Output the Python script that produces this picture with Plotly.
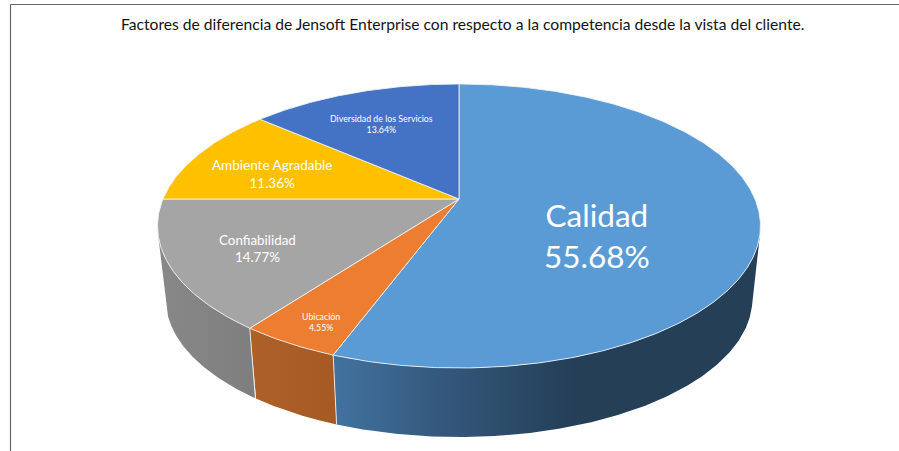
import numpy as np
import plotly.graph_objects as go

# ---- data ----
categories = ["Calidad", "Ubicación", "Confiabilidad", "Ambiente Agradable", "Diversidad de los Servicios"]
values = [55.68, 4.55, 14.77, 11.36, 13.64]
top_colors = ["#5B9BD5", "#ED7D31", "#A5A5A5", "#FFC000", "#4472C4"]
title_text = "Factores de diferencia de Jensoft Enterprise con respecto a la competencia desde la vista del cliente."

# ---- 3D pie geometry (perspective projection of a cylinder onto the page) ----
CX, CY = 459.0, 199.0     # projected pie centre, top face
A, B, K = 296.0, 136.9, 0.19
CY_BOTTOM, SCALE_BOTTOM = 272.6, 0.973

def top_pt(deg):
    t = np.radians(deg)
    u, v = np.sin(t), np.cos(t)
    d = 1 + K * v
    return CX + A * u / d, CY - B * v / d

def bot_pt(deg):
    t = np.radians(deg)
    u, v = np.sin(t), np.cos(t)
    d = 1 + K * v
    return CX + SCALE_BOTTOM * A * u / d, CY_BOTTOM - SCALE_BOTTOM * B * v / d

def silhouette(lo, hi):
    """Generator of the side wall tangent to the top face within [lo, hi]."""
    th = np.arange(lo, hi, 0.1)
    tx, ty = top_pt(th)
    bx, by = bot_pt(th)
    dx, dy = np.gradient(tx), np.gradient(ty)
    cross = dx * (by - ty) - dy * (bx - tx)
    return th[np.argmin(np.abs(cross))]

SIL_R = silhouette(91, 150)
SIL_L = silhouette(215, 269)

cum = np.concatenate([[0], np.cumsum(values)]) / sum(values) * 360.0
fig = go.Figure()
EDGE = "rgba(240,244,248,0.85)"

# side walls: colour stops as (page x, colour)
side_grad = {
    "Calidad": [(337, "#41729E"), (450, "#33567A"), (575, "#243F56"), (760, "#243F56")],
    "Ubicación": [(250, "#AE6029"), (337, "#A65A22")],
    "Confiabilidad": [(160, "#888888"), (256, "#7E7E7E")],
}
for i, name in enumerate(categories):
    if name not in side_grad:
        continue
    a0, a1 = cum[i], cum[i + 1]
    lo = max(a0, SIL_R) if a0 < 180 else a0
    hi = min(a1, SIL_L) if a1 > 180 else a1
    th = np.linspace(lo, hi, 200)
    tx, ty = top_pt(th)
    bx, by = bot_pt(th[::-1])
    xs = np.concatenate([tx, bx, tx[:1]])
    ys = np.concatenate([ty, by, ty[:1]])
    stops = side_grad[name]
    x0, x1 = stops[0][0], stops[-1][0]
    fig.add_trace(go.Scatter(
        x=xs, y=ys, mode="lines", line=dict(width=0), fill="toself",
        fillgradient=dict(type="horizontal", start=x0, stop=x1,
                          colorscale=[[(p - x0) / (x1 - x0), c] for p, c in stops]),
        hoverinfo="skip", showlegend=False))

# vertical seams on the side wall
for a in cum[1:3]:
    tx, ty = top_pt(a)
    bx, by = bot_pt(a)
    fig.add_trace(go.Scatter(x=[tx, bx], y=[ty, by], mode="lines",
                             line=dict(color=EDGE, width=1), hoverinfo="skip", showlegend=False))

# top face wedges
for i, name in enumerate(categories):
    th = np.linspace(cum[i], cum[i + 1], max(int(cum[i + 1] - cum[i]) * 2, 8))
    tx, ty = top_pt(th)
    xs = np.concatenate([[CX], tx, [CX]])
    ys = np.concatenate([[CY], ty, [CY]])
    fig.add_trace(go.Scatter(
        x=xs, y=ys, mode="lines", fill="toself", fillcolor=top_colors[i],
        line=dict(color=EDGE, width=1), name=name,
        text=f"{name}: {values[i]:.2f}%", hoverinfo="text", showlegend=False))

# data labels: page position (x, y of block centre) and font size
label_style = {
    "Calidad": (597, 235, 31.5),
    "Ubicación": (321, 322, 8.8),
    "Confiabilidad": (257, 248.5, 13.4),
    "Ambiente Agradable": (272, 173.5, 13.5),
    "Diversidad de los Servicios": (381, 124, 8.8),
}
FONT = "Lato, Carlito, Calibri, sans-serif"
annotations = []
for name, val in zip(categories, values):
    x, y, size = label_style[name]
    annotations.append(dict(x=x, y=y, xref="x", yref="y", showarrow=False,
                            text=f"{name}<br>{val:.2f}%", align="center",
                            font=dict(family=FONT, size=size, color="white")))
annotations.append(dict(x=462, y=24, xref="x", yref="y", showarrow=False, text=title_text,
                        font=dict(family=FONT, size=15.65, color="#141414")))

FRAME = dict(type="line", xref="x", yref="y", line=dict(color="#666666", width=1.2))
fig.update_layout(
    width=899, height=451, margin=dict(l=0, r=0, t=0, b=0),
    paper_bgcolor="white", plot_bgcolor="white", showlegend=False,
    xaxis=dict(range=[0, 899], visible=False, fixedrange=True),
    yaxis=dict(range=[451, 0], visible=False, fixedrange=True),
    annotations=annotations,
    shapes=[dict(FRAME, x0=10.5, x1=899, y0=4.5, y1=4.5),
            dict(FRAME, x0=10.5, x1=10.5, y0=4.5, y1=451)],
)
fig.write_html("out.html", config={"displayModeBar": False},
               post_script="document.body.style.margin='0';")
